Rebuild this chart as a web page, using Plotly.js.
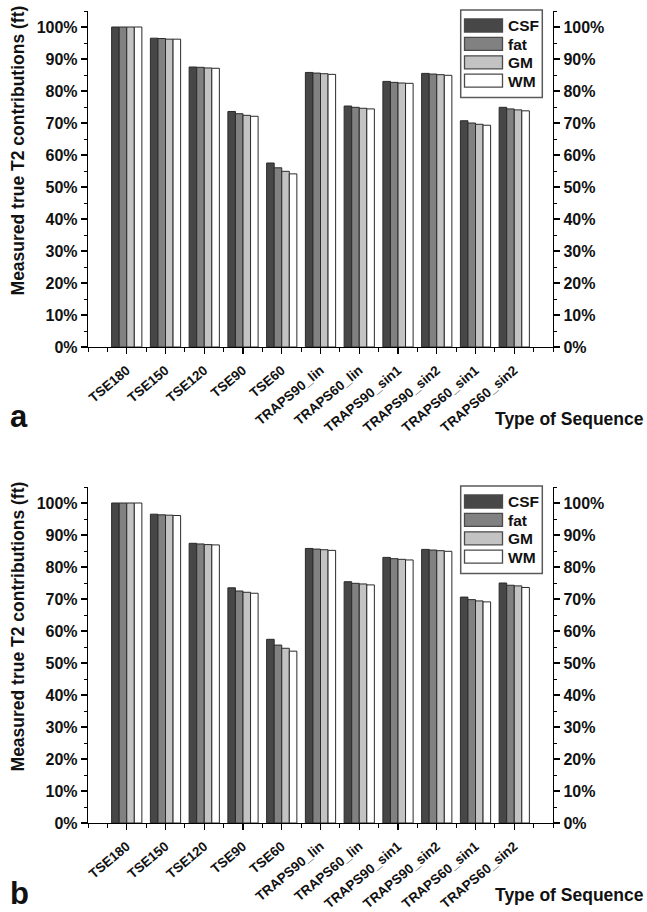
<!DOCTYPE html>
<html>
<head>
<meta charset="utf-8">
<script src="https://cdn.plot.ly/plotly-3.0.1.min.js"></script>
<style>html,body{margin:0;padding:0;background:#fff;}#chart{width:647px;height:912px;}</style>
</head>
<body>
<div id="chart"></div>
<script>
const categories = ['TSE180','TSE150','TSE120','TSE90','TSE60','TRAPS90_lin','TRAPS60_lin','TRAPS90_sin1','TRAPS90_sin2','TRAPS60_sin1','TRAPS60_sin2'];
const seriesNames = ['CSF','fat','GM','WM'];
const seriesColors = ['#474747','#818181','#c3c3c3','#ffffff'];

// Panel a
const csfA = [100, 96.5, 87.5, 73.6, 57.5, 85.8, 75.3, 83.0, 85.5, 70.7, 74.9];
const fatA = [100, 96.4, 87.4, 72.9, 56.0, 85.6, 74.9, 82.7, 85.3, 70.0, 74.4];
const gmA  = [100, 96.2, 87.2, 72.4, 54.9, 85.4, 74.6, 82.5, 85.1, 69.6, 74.1];
const wmA  = [100, 96.2, 87.1, 72.1, 54.1, 85.2, 74.4, 82.4, 84.9, 69.3, 73.8];
// Panel b
const csfB = [100, 96.5, 87.4, 73.5, 57.4, 85.8, 75.4, 83.0, 85.5, 70.6, 75.0];
const fatB = [100, 96.3, 87.2, 72.5, 55.6, 85.6, 74.9, 82.6, 85.3, 69.8, 74.3];
const gmB  = [100, 96.2, 87.0, 72.1, 54.6, 85.4, 74.7, 82.4, 85.1, 69.4, 74.1];
const wmB  = [100, 96.1, 86.9, 71.8, 53.7, 85.2, 74.4, 82.2, 84.9, 69.1, 73.6];

const xTitle = 'Type of Sequence';
const yTitle = 'Measured true T2 contributions (ft)';
const panelLabels = ['a', 'b'];

const FONT = '"Liberation Sans", Arial, sans-serif';
const idx = categories.map((c, i) => i);

function makeTraces(vals, xa, ya) {
  return vals.map((v, k) => ({
    type: 'bar', x: idx, y: v, name: seriesNames[k],
    xaxis: xa, yaxis: ya, showlegend: false,
    marker: {color: seriesColors[k], line: {color: '#2a2a2a', width: 1}},
    hoverinfo: 'skip'
  }));
}
function axisHolder(xa, ya) {
  return {type: 'scatter', mode: 'markers', x: [], y: [], xaxis: xa, yaxis: ya, showlegend: false, hoverinfo: 'skip'};
}

const data = [
  ...makeTraces([csfA, fatA, gmA, wmA], 'x', 'y'),
  axisHolder('x', 'y2'),
  ...makeTraces([csfB, fatB, gmB, wmB], 'x2', 'y3'),
  axisHolder('x2', 'y4')
];

const yRange = [0, 105];
function yAx(domain, side, overlay, anchor) {
  const a = {
    domain: domain, range: yRange, side: side, anchor: anchor,
    showline: true, linecolor: '#000', linewidth: 1.2,
    ticks: 'outside', ticklen: 6, tickwidth: 1.2, tickcolor: '#000',
    tickmode: 'linear', dtick: 10, tick0: 0, ticksuffix: '%',
    minor: {dtick: 5, tick0: 0, ticks: 'outside', ticklen: 3, tickcolor: '#000', tickwidth: 1},
    showgrid: false, zeroline: false, fixedrange: true,
    tickfont: {family: FONT, size: 16, color: '#111', weight: 'bold'}
  };
  if (overlay) a.overlaying = overlay;
  return a;
}
function xAx(anchor) {
  return {
    anchor: anchor, range: [-1, 11], showline: true, linecolor: '#000', linewidth: 1.2,
    tickvals: idx, ticktext: categories, tickangle: -40, ticklabelstandoff: 3,
    ticks: 'outside', ticklen: 6, tickwidth: 1.2, tickcolor: '#000',
    minor: {dtick: 0.5, tick0: -1, ticks: 'outside', ticklen: 4, tickcolor: '#000', tickwidth: 1},
    showgrid: false, zeroline: false, fixedrange: true,
    tickfont: {family: FONT, size: 13.5, color: '#111', weight: 'bold'}
  };
}

// geometry (px) used to place domains & legend
const W = 647, H = 912, ML = 88, MR = 94, MT = 11, MB = 89;
const plotW = W - ML - MR, plotH = H - MT - MB;
const panelH = 336;
const domA = [1 - panelH / plotH, 1.0];
const domB = [0.0, panelH / plotH];

const shapes = [];
const annotations = [];
const annFont = {family: FONT, size: 17.5, color: '#111', weight: 'bold'};

['y', 'y3'].forEach((ya, p) => {
  const xr = 'x' + (p === 0 ? '' : '2') + ' domain';
  const yr = ya + ' domain';
  const px = v => (v - ML) / plotW;
  const py = off => 1 - off / panelH;
  shapes.push({type: 'rect', xref: xr, yref: yr, x0: px(460.7), x1: px(542.3), y0: py(-1), y1: py(86.5),
    line: {color: '#5a5a5a', width: 1.5}, fillcolor: '#fff', layer: 'above'});
  seriesNames.forEach((nm, k) => {
    const top = 8 + k * 18.4;
    shapes.push({type: 'rect', xref: xr, yref: yr, x0: px(464.5), x1: px(502.5), y0: py(top), y1: py(top + 13),
      line: {color: '#4a4a4a', width: 1.3}, fillcolor: seriesColors[k], layer: 'above'});
    annotations.push({text: nm, xref: xr, yref: yr, x: px(505.5), y: py(top + 6.8), xanchor: 'left', yanchor: 'middle',
      showarrow: false, font: {family: FONT, size: 15.5, color: '#111', weight: 'bold'}});
  });
  annotations.push({text: yTitle, xref: 'paper', yref: yr, x: (18 - ML) / plotW, y: 0.585, textangle: -90,
    showarrow: false, xanchor: 'center', yanchor: 'middle', font: annFont});
  annotations.push({text: xTitle, xref: 'paper', yref: yr, x: (646 - ML) / plotW, y: -72 / panelH,
    xanchor: 'right', yanchor: 'middle', showarrow: false, font: annFont});
  annotations.push({text: panelLabels[p], xref: 'paper', yref: yr, x: (19 - ML) / plotW, y: -70 / panelH,
    xanchor: 'center', yanchor: 'middle', showarrow: false,
    font: {family: FONT, size: 31, color: '#111', weight: 'bold'}});
});

const layout = {
  width: W, height: H,
  margin: {l: ML, r: MR, t: MT, b: MB},
  paper_bgcolor: '#fff', plot_bgcolor: '#fff',
  barmode: 'group', bargap: 0.22, bargroupgap: 0,
  showlegend: false,
  xaxis: xAx('y'),
  xaxis2: xAx('y3'),
  yaxis: yAx(domA, 'left', null, 'x'),
  yaxis2: yAx(domA, 'right', 'y', 'x'),
  yaxis3: yAx(domB, 'left', null, 'x2'),
  yaxis4: yAx(domB, 'right', 'y3', 'x2'),
  shapes: shapes,
  annotations: annotations
};

Plotly.newPlot('chart', data, layout, {displayModeBar: false, staticPlot: true});
</script>
</body>
</html>
